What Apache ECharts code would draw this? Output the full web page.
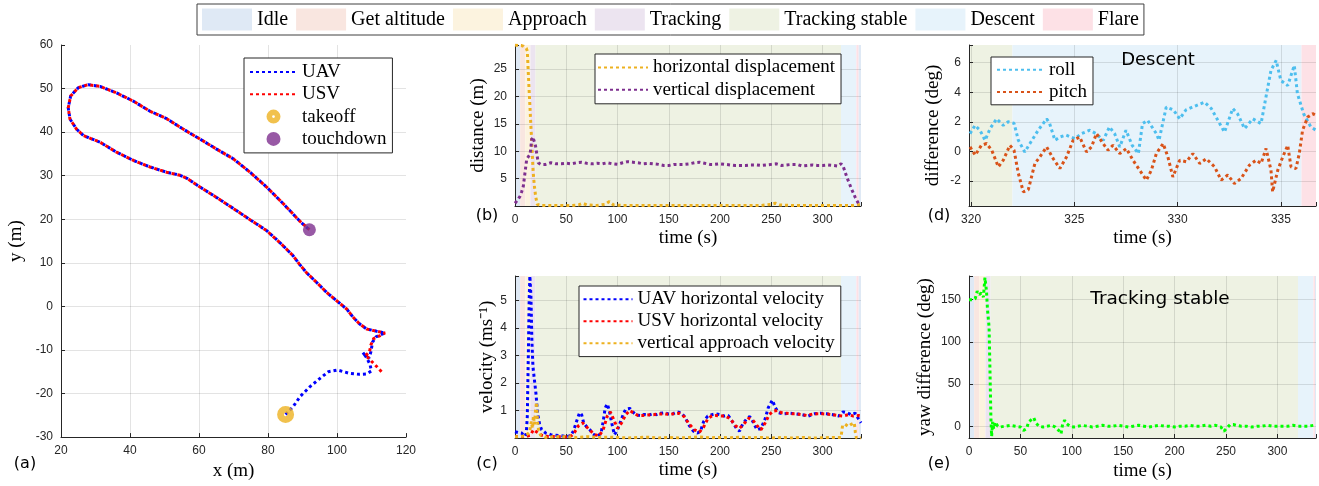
<!DOCTYPE html>
<html><head><meta charset="utf-8">
<script src="https://cdn.jsdelivr.net/npm/echarts@6/dist/echarts.min.js"></script>
<style>html,body{margin:0;padding:0;background:#fff}#c{width:1319px;height:486px}</style>
</head><body><div id="c"></div>
<script>
// ---------- phases ----------
const phaseNames = ['Idle', 'Get altitude', 'Approach', 'Tracking', 'Tracking stable', 'Descent', 'Flare'];
// [phase index, start time, end time]
const phaseSpansB = [[0,0,5],[1,5,10],[2,10,15],[3,15,20],[4,20,318],[5,318,333],[6,333,335],[0,335,337.5]];
const phaseSpansC = [[0,0,5],[1,5,10],[2,10,15],[3,15,20],[4,20,318],[5,318,333],[6,333,335],[0,335,337.5]];
const phaseSpansD = [[4,319.9,322],[5,322,336],[6,336,336.7]];
const phaseSpansE = [[0,0,5],[1,5,10],[2,10,16],[3,16,21],[4,21,320],[5,320,335],[6,335,336.5],[0,336.5,337.5]];

// ---------- (a) trajectories ----------
const uavStart = [[85.1,-24.8],[87.3,-23.0],[89.3,-20.7],[92.2,-18.4],[95.1,-16.5],[97.5,-15.0],[100.1,-14.6],[103.8,-15.4],[106.5,-15.6],[108.6,-15.5],[110.0,-14.8],[109.5,-13.2],[108.6,-11.8],[107.5,-10.6],[108.3,-11.4],[109.3,-11.8],[109.8,-10.5],[110.3,-8.2],[111.3,-7.0],[112.9,-6.4]];
const usvStart = [[112.9,-15.0],[111.5,-13.8],[110.0,-12.6],[108.8,-11.6],[108.1,-11.4],[108.6,-11.0],[109.4,-10.5],[109.8,-8.9],[110.6,-7.4],[112.5,-6.7]];
const sharedPath = [[113.9,-6.1],[111.5,-5.7],[108.6,-5.2],[106.5,-4.0],[104.7,-2.5],[102.8,-0.6],[99.9,1.3],[97.0,3.2],[94.1,5.5],[91.2,7.7],[89.0,9.8],[87.3,11.6],[83.5,14.6],[79.6,17.4],[74.8,19.9],[69.9,22.5],[65.1,25.0],[60.3,27.4],[56.5,29.4],[54.5,30.1],[50.6,30.8],[45.8,32.0],[41.0,33.5],[36.1,35.4],[31.3,37.7],[26.5,39.2],[24.5,40.7],[22.6,43.0],[22.1,45.6],[22.8,48.3],[25.0,50.2],[27.9,50.9],[31.3,50.5],[36.1,49.0],[41.0,47.1],[45.8,44.8],[50.6,43.1],[55.4,40.7],[60.3,38.4],[65.1,36.1],[69.9,33.9],[74.8,30.8],[79.6,27.4],[84.4,23.6],[89.3,19.5],[92.0,17.6]];
const takeoffPoint = [[85.1,-24.8]];
const touchdownPoint = [[92.0,17.6]];

// ---------- (b) displacement ----------
const horizontalDisplacement = [[0,29.4],[1.6,29.4],[4,29.3],[6,29.3],[8,29.2],[9.7,29.1],[11,28.8],[12,28.3],[13,24.2],[13.8,21],[14.6,18.1],[15.4,15],[16.2,12.1],[17,9],[17.8,6.0],[19,3.5],[20.1,1.8],[21.7,0.3],[25,0.1],[35,0.1],[45,0.1],[55,0.1],[62,0.2],[66,0.5],[70,0.2],[80,0.1],[88,0.3],[92,0.8],[96,0.2],[105,0.1],[120,0.1],[140,0.1],[160,0.1],[180,0.1],[200,0.1],[220,0.1],[240,0.1],[250,0.3],[254,0.5],[258,0.2],[270,0.1],[290,0.1],[310,0.1],[320,0.1],[330,0.1],[337,0.3]];
const verticalDisplacement = [[0,0.5],[1,0.6],[3,1.2],[4.9,1.8],[6.5,2.6],[8.1,3.6],[9.7,6.0],[11.4,8.5],[13,9.0],[14.6,9.4],[15.4,10.5],[16.2,12.1],[17.5,12.6],[18.8,12.4],[20,11.0],[21.1,9.7],[22.7,7.9],[25,7.6],[27.5,7.6],[30,7.6],[35,7.9],[40,7.7],[45,7.7],[50,7.8],[55,7.7],[60,7.9],[65,8.0],[70,7.8],[75,7.7],[80,7.8],[85,7.7],[90,7.9],[95,7.7],[100,7.6],[105,7.9],[110,8.1],[115,8.0],[120,7.9],[125,7.7],[130,7.8],[135,7.7],[140,7.6],[145,7.4],[150,7.4],[155,7.6],[160,7.6],[165,7.6],[170,7.7],[175,7.9],[180,8.0],[185,7.8],[190,7.6],[195,7.6],[200,7.7],[205,7.6],[210,7.5],[215,7.4],[220,7.4],[225,7.4],[230,7.5],[235,7.5],[240,7.4],[245,7.5],[250,7.6],[255,7.7],[260,7.4],[265,7.5],[270,7.6],[275,7.6],[280,7.3],[285,7.4],[290,7.5],[295,7.4],[300,7.4],[305,7.5],[310,7.4],[315,7.3],[318,7.7],[320,7.3],[322,6.2],[324,5.1],[326,4.2],[328,3.2],[330,2.4],[332,1.5],[334,0.8],[336,0.2]];

// ---------- (c) velocity ----------
const uavVelocity = [[0,0.23],[3,0.2],[6.5,0.18],[9.5,0.06],[11,0.15],[12,0.8],[13,3.0],[13.8,5.0],[14.5,5.9],[15.5,5.2],[16.5,3.5],[17.5,2.6],[19,2.1],[20.5,1.6],[22,0.9],[24,0.5],[26,0.3],[30,0.18],[35,0.12],[40,0.1],[45,0.08],[50,0.05],[54,0.08],[57,0.25],[60,0.6],[63,0.92],[65,0.85],[67,0.55],[70,0.4],[73,0.3],[76,0.15],[80,0.05],[84,0.18],[86,0.6],[88,1.1],[90,1.24],[92,1.0],[94,0.6],[97,0.12],[100,0.3],[103,0.6],[106,0.9],[108,1.05],[112,1.08],[115,0.95],[118,0.84],[122,0.82],[126,0.86],[130,0.83],[134,0.88],[138,0.85],[142,0.9],[146,0.92],[150,0.87],[154,0.88],[158,0.95],[162,0.92],[166,0.75],[170,0.45],[174,0.25],[178,0.18],[181,0.25],[184,0.6],[188,0.8],[192,0.85],[196,0.88],[200,0.85],[204,0.8],[208,0.82],[212,0.6],[216,0.35],[219,0.25],[222,0.5],[226,0.7],[229,0.78],[232,0.6],[236,0.3],[240,0.35],[244,0.7],[247,1.1],[251,1.38],[254,1.1],[257,0.92],[262,0.88],[268,0.9],[274,0.88],[280,0.85],[286,0.8],[292,0.88],[298,0.9],[304,0.88],[310,0.85],[316,0.8],[320,0.95],[324,0.92],[328,0.85],[332,0.9],[335,0.7],[337.5,0.55]];
const usvVelocity = [[0,0.05],[5,0.06],[10,0.05],[15,0.1],[18,0.3],[22,0.2],[26,0.1],[30,0.06],[40,0.05],[50,0.04],[55,0.08],[58,0.2],[62,0.45],[66,0.55],[70,0.4],[74,0.25],[78,0.12],[82,0.08],[86,0.3],[90,0.8],[93,0.95],[96,0.7],[100,0.35],[104,0.55],[108,0.85],[112,1.0],[116,0.9],[120,0.82],[125,0.82],[130,0.84],[135,0.85],[140,0.87],[145,0.88],[150,0.86],[155,0.88],[160,0.9],[165,0.78],[170,0.5],[175,0.3],[180,0.22],[184,0.4],[188,0.7],[192,0.8],[196,0.82],[200,0.8],[205,0.8],[210,0.7],[215,0.45],[219,0.35],[223,0.5],[228,0.72],[232,0.65],[236,0.45],[240,0.3],[244,0.55],[248,0.85],[252,0.98],[256,1.0],[260,0.92],[265,0.9],[270,0.88],[275,0.88],[280,0.85],[285,0.82],[290,0.87],[295,0.88],[300,0.88],[305,0.87],[310,0.85],[315,0.82],[320,0.8],[325,0.85],[330,0.8],[335,0.82],[337.5,0.8]];
const verticalApproachVelocity = [[0,0.05],[5,0.05],[10,0.08],[14,0.2],[16,0.6],[17,0.35],[18,0.8],[19,0.5],[20,1.0],[21,1.3],[22,0.6],[23,0.3],[25,0.1],[30,0.02],[40,0.05],[50,0.05],[60,0.02],[70,0.05],[80,0.02],[90,0.03],[100,0.02],[110,0.0],[120,0.02],[130,0.03],[140,0.0],[150,0.02],[160,0.0],[170,0.02],[180,0.04],[190,0.01],[200,0.02],[210,0.01],[220,0.03],[230,0.01],[240,0.02],[250,0.0],[260,0.02],[270,0.0],[280,0.02],[290,0.0],[300,0.01],[310,0.02],[318,0.02],[319.5,0.45],[322,0.5],[325,0.42],[328,0.5],[331,0.55],[332,0.2],[333,0.0],[337.5,0.0]];

// ---------- (d) roll / pitch ----------
const rollDifference = [[319.95,1.2],[320.19,1.76],[320.43,1.43],[320.68,0.75],[320.92,1.54],[321.24,2.2],[321.56,1.76],[321.8,2.0],[322.08,1.9],[322.29,0.75],[322.6,-0.04],[322.85,0.53],[323.25,1.43],[323.66,2.2],[323.8,1.9],[324.06,0.75],[324.3,0.97],[324.6,1.1],[325.02,0.86],[325.35,1.2],[325.75,1.43],[326.05,1.2],[326.4,0.75],[326.7,1.65],[326.95,1.2],[327.2,0.3],[327.5,1.43],[327.8,0.41],[328.1,-0.15],[328.3,1.88],[328.55,2.1],[328.97,1.2],[329.1,0.75],[329.45,3.0],[329.8,2.8],[330.1,2.2],[330.4,2.8],[330.9,3.1],[331.3,3.33],[331.63,2.9],[331.95,2.1],[332.27,1.3],[332.67,2.9],[332.9,2.55],[333.24,1.54],[333.64,2.2],[334.04,1.88],[334.28,3.7],[334.52,5.48],[334.77,6.15],[335.0,4.8],[335.33,4.45],[335.65,5.82],[335.8,3.9],[336.1,2.55],[336.45,1.65],[336.7,1.43]];
const pitchDifference = [[319.95,0.3],[320.2,-0.26],[320.5,0.41],[320.75,0.53],[321.0,0.08],[321.32,-1.05],[321.56,-0.6],[321.88,0.41],[322.08,0.08],[322.29,-1.5],[322.53,-2.74],[322.77,-2.6],[323.09,-0.82],[323.33,-0.38],[323.66,0.3],[323.98,-0.5],[324.3,-1.16],[324.62,-0.38],[324.94,0.75],[325.26,0.97],[325.59,-0.04],[325.83,0.3],[326.07,1.2],[326.39,0.53],[326.63,0.08],[326.87,0.41],[327.2,-0.15],[327.52,0.19],[327.84,-0.6],[328.16,-1.27],[328.49,-1.95],[328.73,-1.27],[328.97,-0.15],[329.3,0.53],[329.53,-0.38],[329.77,-1.73],[330.1,-0.6],[330.42,-0.71],[330.74,-0.15],[331.07,-0.82],[331.39,-0.5],[331.79,-1.05],[332.11,-1.95],[332.43,-1.6],[332.75,-2.18],[333.07,-1.84],[333.48,-0.93],[333.8,-0.6],[334.04,-0.82],[334.28,0.19],[334.52,-1.27],[334.6,-2.74],[334.85,-1.27],[335.09,-0.38],[335.33,0.41],[335.49,-1.05],[335.73,-1.16],[335.89,-0.15],[336.05,1.43],[336.3,2.32],[336.54,2.55],[336.7,2.43]];

// ---------- (e) yaw ----------
const yawDifference = [[0,150],[3,150],[6,151],[8,160],[10,156],[12,158],[14,153],[15.5,176],[17,160],[18,138],[19.5,118],[20.5,60],[21.3,10],[22,-12],[23,5],[24,-3],[25.5,5],[28,0],[30,-1],[35,0],[40,1],[45,0],[50,-1],[53,-5],[56,-3],[58,5],[61,8],[63,10],[65,4],[68,0],[72,-1],[76,0],[80,1],[84,-1],[88,-6],[89.5,-9],[91,2],[93,7],[95,3],[98,0],[102,-1],[106,0],[110,1],[115,0],[120,-1],[125,0],[130,1],[135,0],[140,0],[145,1],[150,0],[155,-1],[160,0],[165,1],[170,0],[175,-1],[180,0],[185,1],[190,0],[195,0],[200,-1],[205,0],[210,0],[215,1],[220,0],[225,0],[230,1],[235,0],[240,1],[245,-1],[248,-6],[249.5,-8],[251,-2],[254,2],[257,2],[260,1],[265,0],[270,0],[275,-1],[280,0],[285,0],[290,1],[295,0],[300,0],[305,0],[310,0],[315,1],[320,0],[325,0],[330,0],[335,1],[337.5,0]];

// ---------- styles ----------
const phaseColors = ['#dfe9f5', '#f9e6e0', '#fcf3df', '#ece4f0', '#eef2e3', '#e7f3fb', '#fde1e6'];
const SERIF = 'Liberation Serif';
const SANS = 'Liberation Sans';
const AXC = '#262626';

function xAxisCfg(gi, min, max, name, gap, opt) {
  return Object.assign({
    type: 'value', gridIndex: gi, min: min, max: max, name: name,
    nameLocation: 'middle', nameGap: gap,
    nameTextStyle: { fontFamily: SERIF, fontSize: 19, color: '#000' },
    axisLine: { show: true, onZero: false, lineStyle: { color: AXC, width: 1 } },
    axisTick: { show: true, inside: true, length: 4, lineStyle: { color: AXC } },
    axisLabel: { fontFamily: SANS, fontSize: 12, color: AXC, margin: 8 },
    splitLine: { show: true, showMaxLine: false, lineStyle: { color: 'rgba(0,0,0,0.11)', width: 1 } },
    z: 1.5
  }, opt || {});
}
function yAxisCfg(gi, min, max, name, gap, opt) {
  return xAxisCfg(gi, min, max, name, gap, opt);
}
function mult(step, hideZero) {
  return function (v) {
    const r = Math.round(v / step) * step;
    if (Math.abs(v - r) > 1e-6) return '';
    if (hideZero && Math.abs(v) < 1e-9) return '';
    return String(Math.round(r * 1000) / 1000);
  };
}
function lbl(step, hideZero) {
  return { fontFamily: SANS, fontSize: 12, color: AXC, margin: 8, formatter: mult(step, hideZero) };
}

const dotted = (color) => ({ color: color, width: 3, type: [3, 3], cap: 'butt' });

const series = [];
function bandSeries(spans, gi) {
  phaseNames.forEach(function (nm, pi) {
    const areas = spans.filter(s => s[0] === pi).map(s => [{ xAxis: s[1] }, { xAxis: s[2] }]);
    series.push({
      type: 'line', name: nm, xAxisIndex: gi, yAxisIndex: gi, data: [],
      symbol: 'none', color: phaseColors[pi],
      itemStyle: { color: phaseColors[pi] }, lineStyle: { color: phaseColors[pi] },
      silent: true,
      markArea: { silent: true, z: 1, itemStyle: { color: phaseColors[pi], borderWidth: 0 }, data: areas }
    });
  });
}
bandSeries(phaseSpansB, 1);
bandSeries(phaseSpansC, 2);
bandSeries(phaseSpansD, 3);
bandSeries(phaseSpansE, 4);

function lineS(name, gi, data, color) {
  return { type: 'line', name: name, xAxisIndex: gi, yAxisIndex: gi, data: data, symbol: 'none',
    showSymbol: false, color: color, lineStyle: dotted(color), z: 3 };
}
series.push(lineS('UAV', 0, uavStart.concat(sharedPath), '#0000ff'));
series.push(lineS('USV', 0, usvStart.concat(sharedPath), '#ff0000'));
series.push({ type: 'scatter', name: 'takeoff', xAxisIndex: 0, yAxisIndex: 0, data: takeoffPoint,
  symbol: 'path://M0,-10A10,10 0 1,1 0,10A10,10 0 1,1 0,-10ZM0,-2A2,2 0 1,0 0,2A2,2 0 1,0 0,-2Z',
  symbolSize: 17, color: '#EDB120', itemStyle: { color: '#EDB120' }, z: 4 });
series.push({ type: 'scatter', name: 'touchdown', xAxisIndex: 0, yAxisIndex: 0, data: touchdownPoint,
  symbol: 'circle', symbolSize: 13, color: '#7E2F8E', itemStyle: { color: '#7E2F8E' }, z: 4 });
series.push(lineS('horizontal displacement', 1, horizontalDisplacement, '#EDB120'));
series.push(lineS('vertical displacement', 1, verticalDisplacement, '#7E2F8E'));
series.push(lineS('UAV horizontal velocity', 2, uavVelocity, '#0000ff'));
series.push(lineS('USV horizontal velocity', 2, usvVelocity, '#ff0000'));
series.push(lineS('vertical approach velocity', 2, verticalApproachVelocity, '#EDB120'));
series.push(lineS('roll', 3, rollDifference, '#4DBEEE'));
series.push(lineS('pitch', 3, pitchDifference, '#D95319'));
series.push(lineS('yaw', 4, yawDifference, '#00ff00'));

// legend entries for dotted lines: hide the marker, keep the line
const lineItem = (n) => ({ name: n, itemStyle: { opacity: 0, color: 'rgba(0,0,0,0)', borderWidth: 0 } });

const legendBase = {
  orient: 'vertical', backgroundColor: '#fff', borderColor: AXC, borderWidth: 1,
  itemHeight: 14, selectedMode: false,
  textStyle: { fontFamily: SERIF, fontSize: 19, color: '#000', lineHeight: 19 }
};

const option = {
  animation: false,
  backgroundColor: '#fff',
  grid: [
    { left: 61, top: 45, width: 345, height: 397 },
    { left: 515, top: 45, width: 346, height: 161 },
    { left: 515, top: 276, width: 346, height: 162 },
    { left: 969, top: 45, width: 347, height: 161 },
    { left: 969, top: 276, width: 347, height: 162 }
  ],
  xAxis: [
    xAxisCfg(0, 20, 120, 'x (m)', 24, { interval: 20 }),
    xAxisCfg(1, 0, 337.5, 'time (s)', 23, { interval: 50, axisLabel: lbl(50, false) }),
    xAxisCfg(2, 0, 337.5, 'time (s)', 23, { interval: 50, axisLabel: lbl(50, false) }),
    xAxisCfg(3, 319.9, 336.7, 'time (s)', 23, { splitNumber: 4, axisLabel: lbl(5, false) }),
    xAxisCfg(4, 0, 337.5, 'time (s)', 24, { interval: 50, axisLabel: lbl(50, false) })
  ],
  yAxis: [
    yAxisCfg(0, -30, 60, 'y (m)', 35, { interval: 10 }),
    yAxisCfg(1, 0, 29.4, 'distance (m)', 27, { interval: 5, axisLabel: lbl(5, true) }),
    yAxisCfg(2, 0, 5.9, 'velocity (ms⁻¹)', 17, { interval: 1, axisLabel: lbl(1, true) }),
    yAxisCfg(3, -3.7, 7.2, 'difference (deg)', 26, { splitNumber: 5, axisLabel: lbl(2, false) }),
    yAxisCfg(4, -14, 178, 'yaw difference (deg)', 34, { splitNumber: 4, axisLabel: lbl(50, false) })
  ],
  legend: [
    { orient: 'horizontal', left: 197, top: 4, itemWidth: 50, itemHeight: 22, itemGap: 8,
      padding: [4.5, 5, 4.5, 5], backgroundColor: '#fff', borderColor: '#404040', borderWidth: 1,
      selectedMode: false, icon: 'rect', itemStyle: { borderWidth: 0 },
      textStyle: { fontFamily: SERIF, fontSize: 20, color: '#000', lineHeight: 20 },
      data: phaseNames.map(n => ({ name: n, icon: 'rect' })) },
    Object.assign({}, legendBase, { left: 244, top: 58, itemWidth: 47, itemGap: 3.3, padding: [4.5, 6, 4.5, 5],
      data: [lineItem('UAV'), lineItem('USV'), 'takeoff', 'touchdown'] }),
    Object.assign({}, legendBase, { left: 595, top: 54, itemWidth: 50, itemGap: 3.3, padding: [4, 6, 4.5, 2],
      data: [lineItem('horizontal displacement'), lineItem('vertical displacement')] }),
    Object.assign({}, legendBase, { left: 579, top: 286, itemWidth: 49, itemGap: 3, padding: [3.8, 6, 3.8, 3.5],
      data: [lineItem('UAV horizontal velocity'), lineItem('USV horizontal velocity'), lineItem('vertical approach velocity')] }),
    Object.assign({}, legendBase, { left: 991, top: 57, itemWidth: 47, itemGap: 3.4, padding: [3.2, 6, 3.2, 5],
      data: [lineItem('roll'), lineItem('pitch')] })
  ],
  graphic: [
    { type: 'text', style: { text: '(a)', x: 25, y: 464, font: '16px "DejaVu Sans"', fill: '#000', textAlign: 'center', textVerticalAlign: 'middle', verticalAlign: 'middle' } },
    { type: 'text', style: { text: '(b)', x: 487, y: 216, font: '16px "DejaVu Sans"', fill: '#000', textAlign: 'center', textVerticalAlign: 'middle', verticalAlign: 'middle' } },
    { type: 'text', style: { text: '(c)', x: 487, y: 464, font: '16px "DejaVu Sans"', fill: '#000', textAlign: 'center', textVerticalAlign: 'middle', verticalAlign: 'middle' } },
    { type: 'text', style: { text: '(d)', x: 939, y: 216, font: '16px "DejaVu Sans"', fill: '#000', textAlign: 'center', textVerticalAlign: 'middle', verticalAlign: 'middle' } },
    { type: 'text', style: { text: '(e)', x: 939, y: 464, font: '16px "DejaVu Sans"', fill: '#000', textAlign: 'center', textVerticalAlign: 'middle', verticalAlign: 'middle' } },
    { type: 'text', z: 10, style: { text: 'Descent', x: 1158, y: 60, font: '18px "DejaVu Sans"', fill: '#000', textAlign: 'center', textVerticalAlign: 'middle', verticalAlign: 'middle' } },
    { type: 'text', z: 10, style: { text: 'Tracking stable', x: 1160, y: 299, font: '18.5px "DejaVu Sans"', fill: '#000', textAlign: 'center', textVerticalAlign: 'middle', verticalAlign: 'middle' } }
  ],
  series: series
};

const chart = echarts.init(document.getElementById('c'), null, { renderer: 'canvas' });
chart.setOption(option);
</script>
</body></html>
